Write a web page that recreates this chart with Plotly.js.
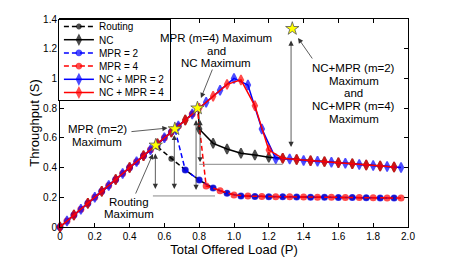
<!DOCTYPE html>
<html><head><meta charset="utf-8">
<script src="https://cdn.plot.ly/plotly-3.0.1.min.js"></script>
<style>html,body{margin:0;padding:0;background:#fff;} #chart{width:450px;height:258px;}</style>
</head><body><div id="chart"></div>
<script>
// ---- data ----
const routingX = [0,0.08,0.16,0.24,0.32,0.40,0.48,0.55,0.56,0.64,0.72,0.80,0.88,0.96,1.04,1.12,1.20,1.28,1.36,1.44,1.52,1.60,1.68,1.76,1.84,1.92];
const routingY = [0,0.08,0.16,0.24,0.32,0.40,0.48,0.55,0.54,0.46,0.384,0.316,0.262,0.227,0.209,0.206,0.204,0.203,0.202,0.201,0.200,0.199,0.198,0.197,0.196,0.195];

const ncX = [0,0.08,0.16,0.24,0.32,0.40,0.48,0.56,0.64,0.72,0.795,0.80,0.88,0.96,1.04,1.12,1.20,1.28,1.36,1.44,1.52,1.60,1.68,1.76,1.84,1.92];
const ncY = [0,0.08,0.16,0.24,0.32,0.40,0.48,0.56,0.64,0.72,0.795,0.66,0.563,0.525,0.497,0.485,0.469,0.462,0.455,0.446,0.440,0.432,0.425,0.418,0.410,0.404];

const mpr2X = [0,0.08,0.16,0.24,0.32,0.40,0.48,0.56,0.64,0.66,0.72,0.80,0.88,0.96,1.04,1.12,1.20,1.28,1.36,1.44,1.52,1.60,1.68,1.76,1.84,1.92];
const mpr2Y = [0,0.08,0.16,0.24,0.32,0.40,0.48,0.56,0.64,0.66,0.384,0.316,0.262,0.227,0.209,0.206,0.204,0.203,0.202,0.201,0.200,0.199,0.198,0.197,0.196,0.195];

const mpr4X = [0.04,0.12,0.20,0.28,0.36,0.44,0.52,0.60,0.68,0.76,0.79,0.84,0.92,1.00,1.08,1.16,1.24,1.32,1.40,1.48,1.56,1.64,1.72,1.80,1.88,1.96];
const mpr4Y = [0.04,0.12,0.20,0.28,0.36,0.44,0.52,0.60,0.68,0.76,0.79,0.276,0.244,0.215,0.208,0.205,0.204,0.203,0.202,0.201,0.200,0.199,0.198,0.197,0.196,0.195];

const ncMpr2X = [0.04,0.12,0.20,0.28,0.36,0.44,0.52,0.60,0.68,0.76,0.84,0.92,1.00,1.08,1.16,1.24,1.32,1.40,1.48,1.56,1.64,1.72,1.80,1.88,1.96];
const ncMpr2Y = [0.04,0.12,0.20,0.28,0.36,0.44,0.52,0.60,0.68,0.76,0.84,0.92,1.00,0.956,0.66,0.46,0.458,0.448,0.443,0.436,0.429,0.421,0.414,0.407,0.400];

const ncMpr4X = [0,0.08,0.16,0.24,0.32,0.40,0.48,0.56,0.64,0.72,0.80,0.88,0.96,1.04,1.12,1.20,1.28,1.36,1.44,1.52,1.60,1.68,1.76,1.84,1.92];
const ncMpr4Y = [0,0.08,0.16,0.24,0.32,0.40,0.48,0.56,0.64,0.72,0.80,0.88,0.96,0.99,0.816,0.518,0.462,0.455,0.446,0.440,0.432,0.425,0.418,0.410,0.404];

const starX = [0.55, 0.66, 0.79, 1.335];
const starY = [0.55, 0.66, 0.80, 1.335];

const xTickVals = [0,0.2,0.4,0.6,0.8,1.0,1.2,1.4,1.6,1.8,2.0];
const xTickText = ['0','0.2','0.4','0.6','0.8','1.0','1.2','1.4','1.6','1.8','2.0'];
const yTickVals = [0,0.2,0.4,0.6,0.8,1.0,1.2,1.4];
const yTickText = ['0','0.2','0.4','0.6','0.8','1','1.2','1.4'];

// annotation texts (one per line) and their positions in data units
const noteText = ['MPR (m=4) Maximum','and','NC Maximum','MPR (m=2)','Maximum','Routing','Maximum','NC+MPR (m=2)','Maximum','and','NC+MPR (m=4)','Maximum'];
const noteX = [0.897,0.897,0.897,0.213,0.213,0.397,0.397,1.687,1.687,1.687,1.687,1.687];
const noteY = [1.272,1.184,1.104,0.657,0.574,0.170,0.085,1.068,0.982,0.900,0.814,0.727];

// pointer arrows: head and tail
const ptrHeadX = [0.810, 0.618, 0.534, 1.368];
const ptrHeadY = [0.868, 0.666, 0.491, 1.272];
const ptrTailX = [0.879, 0.402, 0.431, 1.456];
const ptrTailY = [1.070, 0.641, 0.215, 1.124];

// double-headed vertical arrows
const vArrX = [0.548, 0.657, 0.782, 0.805, 1.328];
const vArrTop = [0.505, 0.63, 0.73, 0.73, 1.265];
const vArrBottom = [0.256, 0.256, 0.249, 0.435, 0.538];

// horizontal reference lines
const hLineY = [0.209, 0.422];
const hLineX0 = [0.534, 0.80];
const hLineX1 = [0.891, 1.28];

// ---- styling ----
const FONT = 'Liberation Sans, Arial, Helvetica, sans-serif';
const STEP = 0.08;
function onGrid(x, off) { const k = (x - off) / STEP; return Math.abs(k - Math.round(k)) < 1e-6; }
function series(name, xs, ys, color, dash, symbol, size, off) {
  const sizes = xs.map(x => onGrid(x, off) ? size : 0);
  const lws = xs.map(x => onGrid(x, off) ? 1.5 : 0);
  return {
    type: 'scatter', mode: 'lines+markers', name: name, x: xs, y: ys,
    line: {color: color, width: 1.5, dash: dash},
    marker: {color: color, symbol: symbol, size: sizes, line: {color: color, width: lws}},
    cliponaxis: false
  };
}
const DASH = '5px,3px';
const data = [
  series('Routing', routingX, routingY, '#000000', DASH, 'circle', 4.5, 0),
  series('NC', ncX, ncY, '#000000', 'solid', 'diamond-tall', 7, 0),
  series('MPR = 2', mpr2X, mpr2Y, '#0000ff', DASH, 'circle', 5.5, 0),
  series('MPR = 4', mpr4X, mpr4Y, '#ff0000', DASH, 'circle', 5.5, 0.04),
  series('NC + MPR = 2', ncMpr2X, ncMpr2Y, '#0000ff', 'solid', 'diamond-tall', 7, 0.04),
  series('NC + MPR = 4', ncMpr4X, ncMpr4Y, '#ff0000', 'solid', 'diamond-tall', 7, 0),
  {type:'scatter', mode:'markers', x: starX, y: starY, showlegend:false, cliponaxis:false,
   marker:{symbol:'star', size:10, color:'#ffff00', line:{color:'#555', width:0.8}}}
];

const annotations = [];
noteText.forEach((t, i) => annotations.push({
  x: noteX[i], y: noteY[i], xref:'x', yref:'y', text: t, showarrow:false,
  xanchor:'center', yanchor:'middle', font:{family:FONT, size:11.5, color:'#000'}
}));
ptrHeadX.forEach((_, i) => annotations.push({
  x: ptrHeadX[i], y: ptrHeadY[i], ax: ptrTailX[i], ay: ptrTailY[i], xref:'x', yref:'y', axref:'x', ayref:'y',
  text:'', showarrow:true, arrowhead:2, arrowsize:1.3, arrowwidth:0.8, arrowcolor:'#333', standoff:0
}));
vArrX.forEach((_, i) => annotations.push({
  x: vArrX[i], y: vArrBottom[i], ax: vArrX[i], ay: vArrTop[i], xref:'x', yref:'y', axref:'x', ayref:'y',
  text:'', showarrow:true, arrowhead:2, arrowsize:1.3, arrowwidth:0.8, arrowcolor:'#333', standoff:0,
  arrowside:'end+start', startarrowhead:2, startarrowsize:1.3, startstandoff:0
}));
const shapes = hLineY.map((y, i) => ({type:'line', xref:'x', yref:'y', x0:hLineX0[i], x1:hLineX1[i], y0:y, y1:y, line:{color:'#888', width:1}}));

const axisBase = {
  ticks:'inside', ticklen:4, tickwidth:1, tickcolor:'#000', showline:true, linecolor:'#000', linewidth:1,
  mirror:'ticks', showgrid:false, zeroline:false, tickfont:{family:FONT, size:10, color:'#000'}
};
const layout = {
  width:450, height:258,
  margin:{l:60, r:42, t:19, b:31, pad:0},
  paper_bgcolor:'#fff', plot_bgcolor:'#fff',
  font:{family:FONT, size:10, color:'#000'},
  showlegend:true,
  legend:{x:-0.006, y:1, xanchor:'left', yanchor:'top', bgcolor:'#fff', bordercolor:'#000', borderwidth:1,
          font:{family:FONT, size:10, color:'#000'}, itemwidth:30, tracegroupgap:0},
  xaxis:Object.assign({}, axisBase, {range:[0,2], tickvals:xTickVals, ticktext:xTickText, automargin:false,
          title:{text:'Total Offered Load (P)', font:{family:FONT, size:13, color:'#000'}, standoff:3}}),
  yaxis:Object.assign({}, axisBase, {range:[0,1.4], tickvals:yTickVals, ticktext:yTickText, automargin:true,
          title:{text:'Throughput (S)', font:{family:FONT, size:13, color:'#000'}, standoff:0}}),
  annotations: annotations,
  shapes: shapes
};

Plotly.newPlot('chart', data, layout, {staticPlot:true, displayModeBar:false}).then(gd => {
  // compact the legend rows to match the reference spacing
  const items = gd.querySelectorAll('.legend .traces');
  items.forEach((el, i) => {
    const t = el.getAttribute('transform') || '';
    const m = t.match(/translate\(\s*([-\d.]+)[\s,]+([-\d.]+)\s*\)/);
    const tx = m ? parseFloat(m[1]) : 1;
    el.setAttribute('transform', 'translate(' + tx + ',' + (7.5 + 13.2 * i) + ')');
  });
  const bg = gd.querySelector('.legend rect.bg');
  if (bg) bg.setAttribute('height', 81);
});
</script>
</body></html>
